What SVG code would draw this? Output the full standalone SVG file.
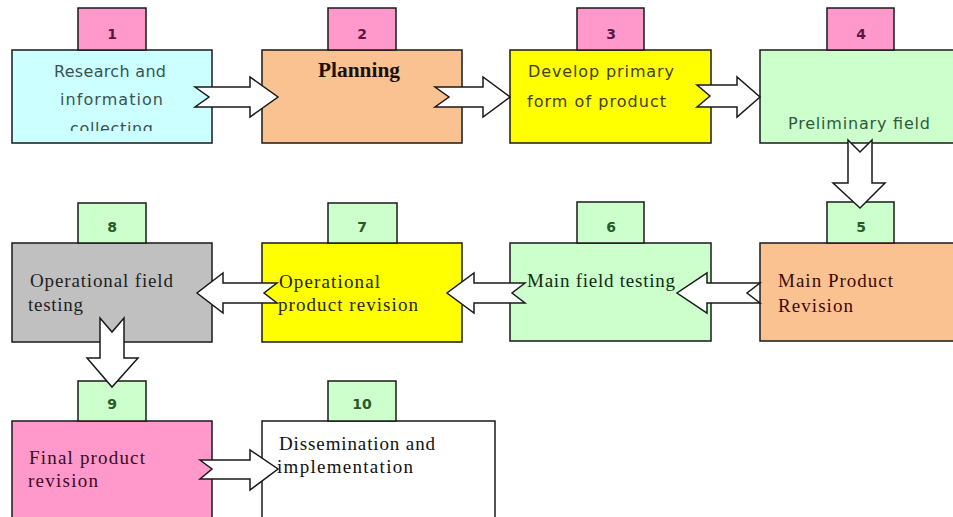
<svg xmlns="http://www.w3.org/2000/svg" width="953" height="517" viewBox="0 0 953 517">
<style>
.box{stroke:#1a1a1a;stroke-width:1.5}
.tabp{fill:#ff99cc;stroke:#1a1a1a;stroke-width:1.5}
.tabg{fill:#ccffcc;stroke:#1a1a1a;stroke-width:1.5}
.arrow{fill:#ffffff;stroke:#1a1a1a;stroke-width:1.5;stroke-linejoin:miter}
.sans{font-family:"DejaVu Sans","Liberation Sans",sans-serif;font-size:16px}
.serif{font-family:"Liberation Serif","DejaVu Serif",serif;font-size:19px}
.num{font-family:"DejaVu Sans","Liberation Sans",sans-serif;font-size:14px;font-weight:bold;text-anchor:middle}
.np{fill:#5a1840}
.ng{fill:#2a5a2a}
</style>
<defs>
<clipPath id="clip1"><rect x="12" y="50" width="200" height="81"/></clipPath>
</defs>
<rect x="0" y="0" width="953" height="517" fill="#ffffff"/>

<g id="node1">
<rect class="box" x="12" y="50" width="200" height="93" fill="#ccffff"/>
<rect class="tabp" x="78" y="8" width="68" height="42"/>
<text class="num np" x="112" y="39">1</text>
<g class="sans" fill="#3a5252" text-anchor="start">
<text x="54" y="77" textLength="112" lengthAdjust="spacing">Research and</text>
<text x="60" y="105" textLength="103" lengthAdjust="spacing">information</text>
<text x="70" y="134" textLength="83" lengthAdjust="spacing" clip-path="url(#clip1)">collecting</text>
</g>
</g>

<g id="node2">
<rect class="box" x="262" y="50" width="200" height="93" fill="#fac191"/>
<rect class="tabp" x="328" y="8" width="68" height="42"/>
<text class="num np" x="362" y="39">2</text>
<text x="318" y="77" textLength="82" lengthAdjust="spacingAndGlyphs" font-family="Liberation Serif, serif" font-size="20" font-weight="bold" fill="#1a1008">Planning</text>
</g>

<g id="node3">
<rect class="box" x="510" y="50" width="201" height="93" fill="#ffff00"/>
<rect class="tabp" x="577" y="8" width="67" height="42"/>
<text class="num np" x="611" y="39">3</text>
<g class="sans" fill="#404010">
<text x="528" y="77" textLength="146" lengthAdjust="spacing">Develop primary</text>
<text x="527" y="107" textLength="139" lengthAdjust="spacing">form of product</text>
</g>
</g>

<g id="node4">
<rect class="box" x="760" y="50" width="200" height="93" fill="#ccffcc"/>
<rect class="tabp" x="827" y="8" width="67" height="42"/>
<text class="num np" x="861" y="39">4</text>
<text class="sans" x="788" y="129" textLength="142" lengthAdjust="spacing" fill="#2f5a3a">Preliminary field</text>
</g>

<g id="node5">
<rect class="box" x="760" y="243" width="200" height="98" fill="#fac191"/>
<rect class="tabg" x="827" y="202" width="67" height="41"/>
<text class="num ng" x="861" y="232">5</text>
<g class="serif" fill="#3a0a0a">
<text x="778" y="287" textLength="115" lengthAdjust="spacing">Main Product</text>
<text x="778" y="312" textLength="75" lengthAdjust="spacing">Revision</text>
</g>
</g>

<g id="node6">
<rect class="box" x="510" y="243" width="201" height="98" fill="#ccffcc"/>
<rect class="tabg" x="577" y="202" width="67" height="41"/>
<text class="num ng" x="611" y="232">6</text>
<text class="serif" x="527" y="287" textLength="148" lengthAdjust="spacing" fill="#102a14">Main field testing</text>
</g>

<g id="node7">
<rect class="box" x="262" y="243" width="200" height="99" fill="#ffff00"/>
<rect class="tabg" x="328" y="203" width="69" height="40"/>
<text class="num ng" x="362" y="232">7</text>
<g class="serif" fill="#262408">
<text x="279" y="288" textLength="101" lengthAdjust="spacing">Operational</text>
<text x="278" y="311" textLength="140" lengthAdjust="spacing">product revision</text>
</g>
</g>

<g id="node8">
<rect class="box" x="12" y="243" width="200" height="99" fill="#c0c0c0"/>
<rect class="tabg" x="78" y="203" width="68" height="40"/>
<text class="num ng" x="112" y="232">8</text>
<g class="serif" fill="#1e1e1e">
<text x="30" y="287" textLength="143" lengthAdjust="spacing">Operational field</text>
<text x="28" y="311" textLength="55" lengthAdjust="spacing">testing</text>
</g>
</g>

<g id="node9">
<rect class="box" x="12" y="421" width="200" height="100" fill="#ff99cc"/>
<rect class="tabg" x="78" y="381" width="68" height="40"/>
<text class="num ng" x="112" y="409">9</text>
<g class="serif" fill="#3a0a20">
<text x="29" y="464" textLength="116" lengthAdjust="spacing">Final product</text>
<text x="28" y="487" textLength="70" lengthAdjust="spacing">revision</text>
</g>
</g>

<g id="node10">
<rect class="box" x="262" y="421" width="233" height="100" fill="#ffffff"/>
<rect class="tabg" x="328" y="381" width="68" height="40"/>
<text class="num ng" x="362" y="409">10</text>
<g class="serif" fill="#111111">
<text x="279" y="450" textLength="156" lengthAdjust="spacing">Dissemination and</text>
<text x="277" y="473" textLength="136" lengthAdjust="spacing">implementation</text>
</g>
</g>

<g id="connectors">
<polygon class="arrow" points="195,87 250,87 250,77 278,97 250,117 250,107 195,107 209,97"/>
<polygon class="arrow" points="435,87 483,87 483,77 510,97 483,117 483,107 435,107 449,97"/>
<polygon class="arrow" points="697,85 737,85 737,77 760,97 737,117 737,107 697,107 710,96"/>
<polygon class="arrow" points="848,140 848,183 833,183 860,208 885,183 872,183 872,140 860,152"/>
<polygon class="arrow" points="760,283 707,283 707,273 677,293 707,313 707,303 760,303 747,293"/>
<polygon class="arrow" points="525,283 474,283 474,273 447,293 474,313 474,303 525,303 512,293"/>
<polygon class="arrow" points="277,283 223,283 223,273 197,293 223,313 223,303 277,303 264,293"/>
<polygon class="arrow" points="100,318 100,358 87,358 112,387 138,358 124,358 124,318 112,332"/>
<polygon class="arrow" points="200,460 250,460 250,450 278,469 250,490 250,479 200,479 212,469"/>
</g>
</svg>
